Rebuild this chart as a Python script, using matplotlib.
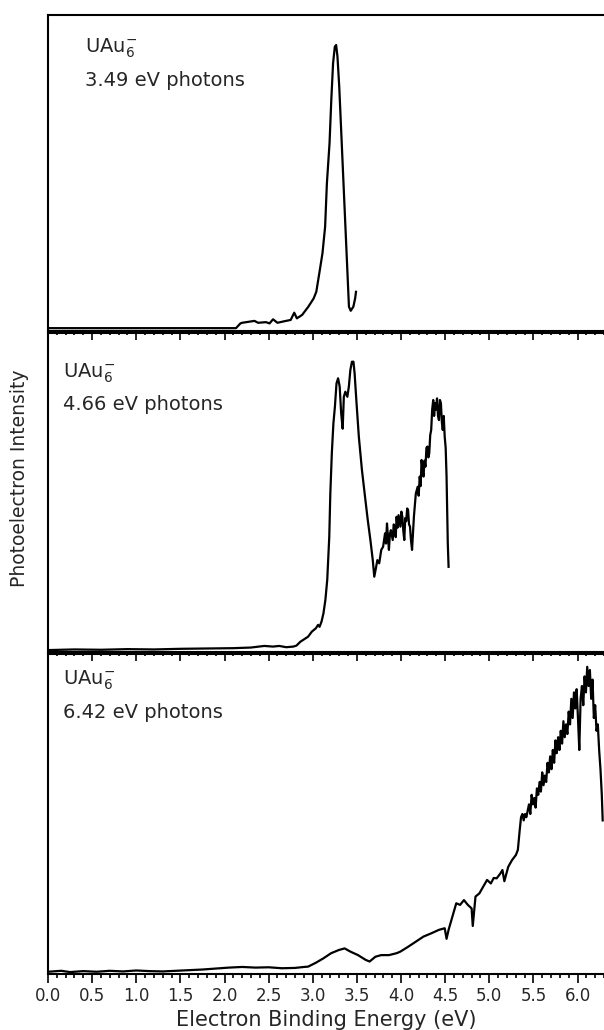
import numpy as np
import matplotlib
matplotlib.use("Agg")
import matplotlib.pyplot as plt
from matplotlib.ticker import MultipleLocator, FormatStrFormatter

plt.rcParams['font.family'] = ['DejaVu Sans']
plt.rcParams['mathtext.fontset'] = 'dejavusans'

# photon energies for each panel
photon_labels = ["3.49 eV photons", "4.66 eV photons", "6.42 eV photons"]
species = r"UAu$_6^{-}$"

# 3.49 eV spectrum (binding energy in eV, intensity in arb. units)
e_349 = [0.00, 2.13, 2.18, 2.20, 2.27, 2.34, 2.38, 2.47, 2.51, 2.55, 2.60, 2.68,
         2.75, 2.79, 2.82, 2.88, 2.95, 3.01, 3.04, 3.08, 3.11, 3.14, 3.16, 3.19,
         3.21, 3.23, 3.25, 3.265, 3.28, 3.30, 3.32, 3.34, 3.36, 3.38, 3.395, 3.41,
         3.43, 3.46, 3.48, 3.49]
i_349 = [0.009, 0.009, 0.024, 0.026, 0.029, 0.032, 0.026, 0.028, 0.024, 0.037, 0.026, 0.031,
         0.035, 0.058, 0.040, 0.051, 0.077, 0.103, 0.124, 0.193, 0.246, 0.330, 0.467, 0.594,
         0.731, 0.847, 0.900, 0.905, 0.868, 0.773, 0.647, 0.520, 0.393, 0.267, 0.172, 0.077,
         0.064, 0.077, 0.103, 0.124]

# 4.66 eV spectrum
e_466 = [0.00, 0.30, 0.60, 0.90, 1.20, 1.50, 1.80, 2.10, 2.30, 2.45, 2.55, 2.62, 2.70,
         2.78, 2.815, 2.859, 2.903, 2.947, 2.990, 3.034, 3.060, 3.077, 3.099, 3.121,
         3.143, 3.164, 3.187, 3.199, 3.216, 3.234, 3.251, 3.269, 3.287, 3.305, 3.322,
         3.339, 3.352, 3.369, 3.392, 3.409, 3.426, 3.444, 3.461, 3.474, 3.496, 3.522,
         3.557, 3.592, 3.623, 3.653, 3.680, 3.697, 3.715, 3.732, 3.753, 3.776, 3.797,
         3.819, 3.830, 3.841, 3.852, 3.863, 3.874, 3.885, 3.906, 3.917, 3.928, 3.940,
         3.950, 3.961, 3.972, 3.993, 4.004, 4.015, 4.026, 4.037, 4.048, 4.059, 4.070,
         4.080, 4.091, 4.102, 4.113, 4.125, 4.146, 4.168, 4.189, 4.200, 4.212, 4.222,
         4.233, 4.244, 4.255, 4.266, 4.277, 4.288, 4.299, 4.310, 4.320, 4.331, 4.342,
         4.353, 4.365, 4.375, 4.386, 4.397, 4.408, 4.419, 4.430, 4.441, 4.452, 4.463,
         4.473, 4.484, 4.495, 4.506, 4.516, 4.530, 4.539]
i_466 = [0.006, 0.008, 0.007, 0.009, 0.008, 0.010, 0.011, 0.012, 0.014, 0.019, 0.017, 0.019, 0.015,
         0.017, 0.020, 0.032, 0.040, 0.048, 0.064, 0.074, 0.085, 0.079, 0.095, 0.121,
         0.163, 0.226, 0.361, 0.497, 0.623, 0.717, 0.769, 0.842, 0.858, 0.832, 0.748,
         0.700, 0.800, 0.816, 0.800, 0.832, 0.884, 0.910, 0.910, 0.874, 0.780, 0.675,
         0.571, 0.487, 0.414, 0.351, 0.288, 0.236, 0.262, 0.288, 0.278, 0.320, 0.330,
         0.372, 0.340, 0.403, 0.360, 0.320, 0.370, 0.382, 0.351, 0.400, 0.393, 0.360,
         0.424, 0.390, 0.429, 0.393, 0.440, 0.424, 0.380, 0.351, 0.420, 0.410, 0.450,
         0.445, 0.400, 0.393, 0.350, 0.320, 0.424, 0.497, 0.518, 0.490, 0.550, 0.520,
         0.602, 0.570, 0.550, 0.600, 0.581, 0.640, 0.644, 0.610, 0.623, 0.680, 0.696,
         0.760, 0.790, 0.740, 0.780, 0.760, 0.795, 0.740, 0.727, 0.790, 0.780, 0.720,
         0.696, 0.740, 0.675, 0.640, 0.550, 0.340, 0.267]

# 6.42 eV spectrum
e_642 = [0.00, 0.15, 0.25, 0.40, 0.55, 0.70, 0.85, 1.00, 1.15, 1.30, 1.45, 1.60, 1.75,
         1.90, 2.05, 2.20, 2.35, 2.50, 2.65, 2.80, 2.90, 2.947, 3.034, 3.121, 3.208,
         3.296, 3.361, 3.426, 3.513, 3.600, 3.644, 3.710, 3.775, 3.863, 3.950, 3.993,
         4.080, 4.168, 4.255, 4.342, 4.430, 4.495, 4.516, 4.539, 4.582, 4.626, 4.669,
         4.713, 4.757, 4.800, 4.813, 4.844, 4.888, 4.931, 4.975, 5.018, 5.050, 5.084,
         5.128, 5.149, 5.171, 5.215, 5.258, 5.302, 5.324,
         5.345, 5.36, 5.375, 5.39, 5.405, 5.42, 5.435, 5.45, 5.465, 5.48, 5.495, 5.51,
         5.525, 5.54, 5.555, 5.57, 5.585, 5.60, 5.615, 5.63, 5.645, 5.66, 5.675, 5.69,
         5.705, 5.72, 5.735, 5.75, 5.765, 5.78, 5.795, 5.81, 5.825, 5.84, 5.855, 5.87,
         5.885, 5.90, 5.915, 5.93, 5.945, 5.96, 5.975, 5.99, 6.005, 6.02, 6.035, 6.05,
         6.065, 6.08, 6.095, 6.11, 6.125, 6.14, 6.155, 6.17, 6.185, 6.20, 6.215, 6.23,
         6.245, 6.26, 6.275, 6.285]
i_642 = [0.007, 0.010, 0.006, 0.009, 0.007, 0.010, 0.008, 0.011, 0.009, 0.008, 0.010, 0.012, 0.014,
         0.017, 0.020, 0.022, 0.020, 0.021, 0.018, 0.019, 0.022, 0.023, 0.035, 0.049, 0.065,
         0.075, 0.080, 0.070, 0.059, 0.044, 0.039, 0.054, 0.059, 0.059, 0.065, 0.070,
         0.085, 0.101, 0.117, 0.127, 0.138, 0.143, 0.110, 0.138, 0.179, 0.221, 0.216,
         0.231, 0.216, 0.205, 0.150, 0.242, 0.252, 0.273, 0.294, 0.283, 0.300, 0.299,
         0.315, 0.325, 0.290, 0.335, 0.356, 0.372, 0.388,
         0.450, 0.490, 0.500, 0.480, 0.500, 0.490, 0.510, 0.530, 0.500, 0.560, 0.530, 0.550,
         0.520, 0.580, 0.560, 0.600, 0.570, 0.630, 0.590, 0.620, 0.600, 0.660, 0.630, 0.680,
         0.640, 0.700, 0.660, 0.730, 0.690, 0.740, 0.700, 0.760, 0.720, 0.790, 0.740, 0.780,
         0.750, 0.820, 0.780, 0.860, 0.800, 0.880, 0.830, 0.890, 0.800, 0.700, 0.860, 0.900,
         0.840, 0.930, 0.880, 0.960, 0.900, 0.950, 0.860, 0.920, 0.800, 0.840, 0.760, 0.780,
         0.700, 0.640, 0.560, 0.480]

spectra = [(e_349, i_349), (e_466, i_466), (e_642, i_642)]

W, H = 604, 1030
fig = plt.figure(figsize=(W / 100, H / 100), dpi=100)

# panel boxes in pixels: (top, bottom)
rows = [(15, 331), (333, 652), (654, 974)]
left_px, right_px = 48, 604
text_color = '#262626'

axes = []
for k, (top, bot) in enumerate(rows):
    ax = fig.add_axes([left_px / W, 1 - bot / H, (right_px - left_px) / W, (bot - top) / H])
    ax.patch.set_visible(False)
    x, y = spectra[k]
    ax.plot(x, y, color='black', lw=1.6)
    ax.set_xlim(0, 6.3)
    ax.set_ylim(0, 1)
    ax.set_yticks([])
    ax.xaxis.set_major_locator(MultipleLocator(0.5))
    ax.xaxis.set_minor_locator(MultipleLocator(0.1))
    ax.tick_params(axis='x', which='major', direction='out', length=6.5, width=1.2,
                   labelsize=12, labelcolor=text_color, pad=3)
    ax.tick_params(axis='x', which='minor', direction='out', length=3, width=1.2)
    for side in ['left', 'top', 'bottom']:
        ax.spines[side].set_linewidth(1.5)
    ax.spines['right'].set_visible(False)
    if k < 2:
        ax.tick_params(axis='x', labelbottom=False)
    else:
        ax.xaxis.set_major_formatter(FormatStrFormatter('%.1f'))
    axes.append(ax)

# annotation positions in pixels: left x, species line y, photon line y
label_pos = [(85, 48, 81), (63, 373, 405), (63, 680, 713)]
for k, (lx, y1, y2) in enumerate(label_pos):
    fig.text(lx / W, 1 - y1 / H, species, fontsize=14, color=text_color, va='center', ha='left')
    fig.text(lx / W, 1 - y2 / H, photon_labels[k], fontsize=14, color=text_color, va='center', ha='left')

fig.text(20 / W, 1 - 478 / H, "Photoelectron Intensity", rotation=90, fontsize=13.5,
         color=text_color, va='center', ha='center')
fig.text(326 / W, 1 - 1020 / H, "Electron Binding Energy (eV)", fontsize=15,
         color=text_color, va='center', ha='center')

fig.savefig("out.png", dpi=100)
